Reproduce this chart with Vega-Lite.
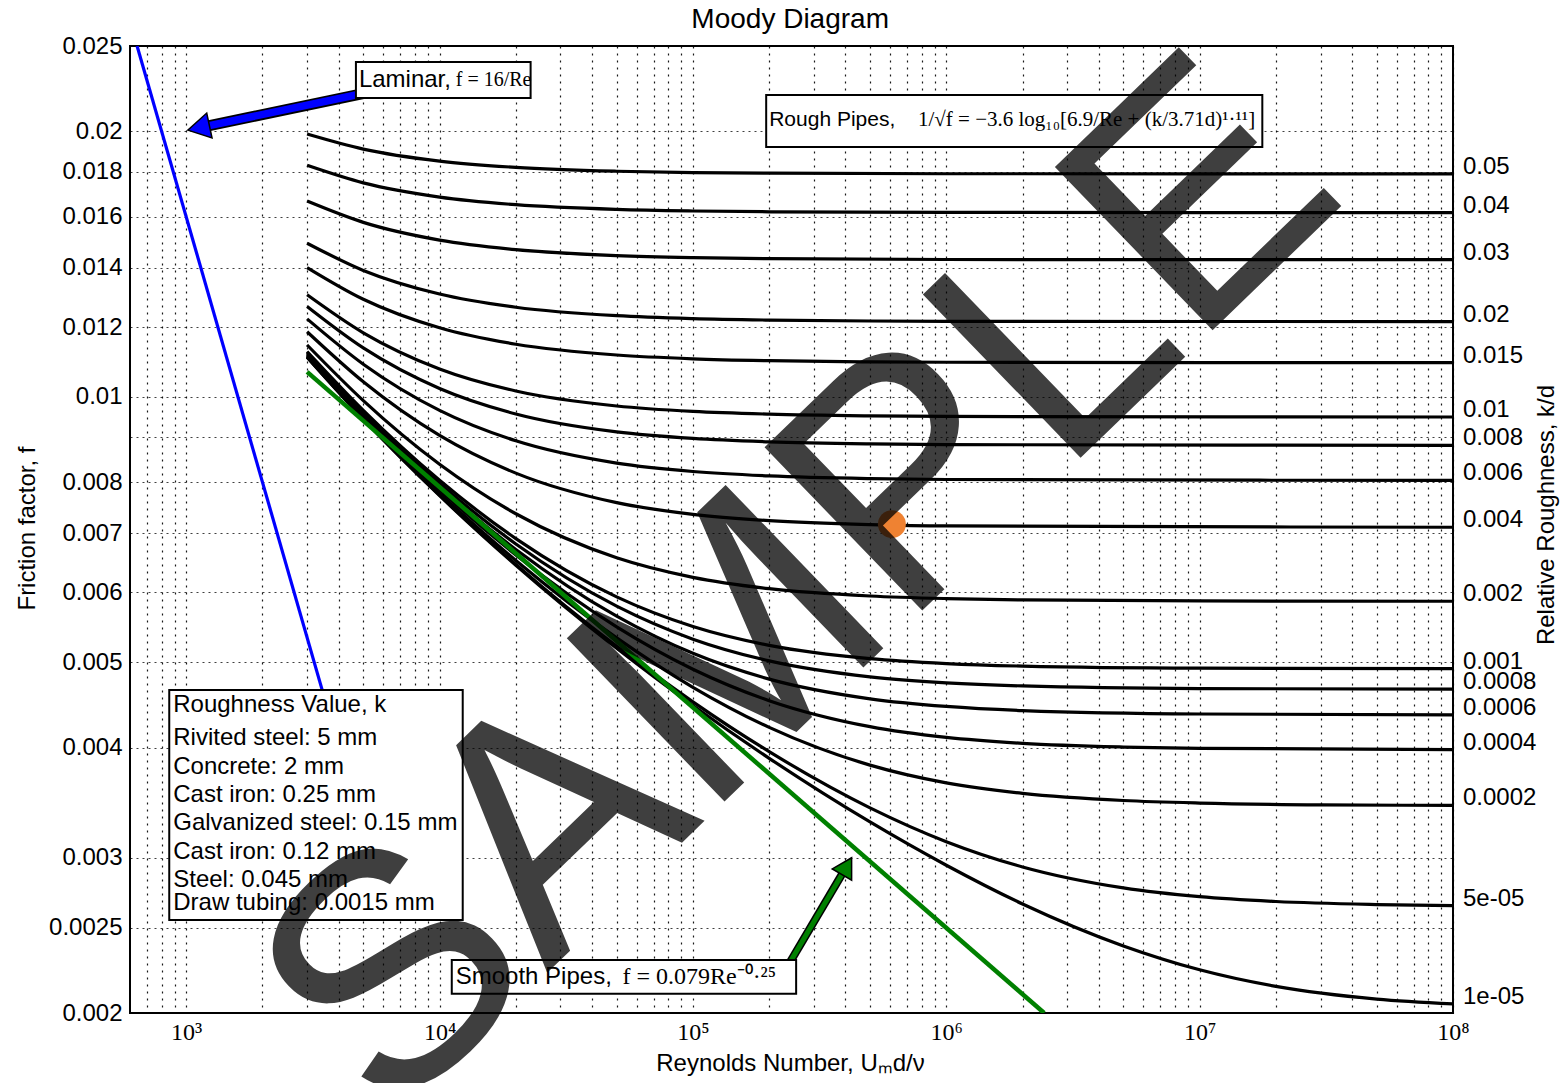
{
  "$schema": "https://vega.github.io/schema/vega-lite/v6.json",
  "width": 1323,
  "height": 967,
  "autosize": {"type": "none"},
  "padding": {"left": 130, "top": 46, "right": 112, "bottom": 70},
  "background": "white",
  "config": {
    "view": {"stroke": "black", "strokeWidth": 2},
    "axis": {"domain": false, "ticks": false, "labelColor": "black", "titleColor": "black", "gridColor": "black", "labelOverlap": false, "labelFlush": false}
  },
  "datasets": {
    "curves": [
      {"kd": "0.05", "re": 3000, "f": 0.019863}, {"kd": "0.05", "re": 5000, "f": 0.019098}, {"kd": "0.05", "re": 10000, "f": 0.018508}, {"kd": "0.05", "re": 20000, "f": 0.018207}, {"kd": "0.05", "re": 50000, "f": 0.018024}, {"kd": "0.05", "re": 100000, "f": 0.017963}, {"kd": "0.05", "re": 200000, "f": 0.017932}, {"kd": "0.05", "re": 1000000, "f": 0.017908}, {"kd": "0.05", "re": 100000000, "f": 0.017901},
      {"kd": "0.04", "re": 3000, "f": 0.018306}, {"kd": "0.04", "re": 5000, "f": 0.017485}, {"kd": "0.04", "re": 10000, "f": 0.016845}, {"kd": "0.04", "re": 20000, "f": 0.016516}, {"kd": "0.04", "re": 50000, "f": 0.016315}, {"kd": "0.04", "re": 100000, "f": 0.016248}, {"kd": "0.04", "re": 200000, "f": 0.016214}, {"kd": "0.04", "re": 1000000, "f": 0.016187}, {"kd": "0.04", "re": 100000000, "f": 0.01618},
      {"kd": "0.03", "re": 3000, "f": 0.016674}, {"kd": "0.03", "re": 5000, "f": 0.015772}, {"kd": "0.03", "re": 10000, "f": 0.015059}, {"kd": "0.03", "re": 20000, "f": 0.014688}, {"kd": "0.03", "re": 50000, "f": 0.01446}, {"kd": "0.03", "re": 100000, "f": 0.014383}, {"kd": "0.03", "re": 200000, "f": 0.014345}, {"kd": "0.03", "re": 1000000, "f": 0.014314}, {"kd": "0.03", "re": 100000000, "f": 0.014306},
      {"kd": "0.02", "re": 3000, "f": 0.014936}, {"kd": "0.02", "re": 5000, "f": 0.013912}, {"kd": "0.02", "re": 10000, "f": 0.01308}, {"kd": "0.02", "re": 20000, "f": 0.012636}, {"kd": "0.02", "re": 50000, "f": 0.01236}, {"kd": "0.02", "re": 100000, "f": 0.012266}, {"kd": "0.02", "re": 200000, "f": 0.012219}, {"kd": "0.02", "re": 500000, "f": 0.01219}, {"kd": "0.02", "re": 1000000, "f": 0.012181}, {"kd": "0.02", "re": 100000000, "f": 0.012171},
      {"kd": "0.015", "re": 3000, "f": 0.014016}, {"kd": "0.015", "re": 5000, "f": 0.012902}, {"kd": "0.015", "re": 10000, "f": 0.011976}, {"kd": "0.015", "re": 20000, "f": 0.011472}, {"kd": "0.015", "re": 50000, "f": 0.011154}, {"kd": "0.015", "re": 100000, "f": 0.011044}, {"kd": "0.015", "re": 200000, "f": 0.010989}, {"kd": "0.015", "re": 500000, "f": 0.010956}, {"kd": "0.015", "re": 1000000, "f": 0.010944}, {"kd": "0.015", "re": 100000000, "f": 0.010933},
      {"kd": "0.01", "re": 3000, "f": 0.013055}, {"kd": "0.01", "re": 5000, "f": 0.01182}, {"kd": "0.01", "re": 10000, "f": 0.010754}, {"kd": "0.01", "re": 20000, "f": 0.010153}, {"kd": "0.01", "re": 50000, "f": 0.009763}, {"kd": "0.01", "re": 100000, "f": 0.009626}, {"kd": "0.01", "re": 200000, "f": 0.009557}, {"kd": "0.01", "re": 500000, "f": 0.009515}, {"kd": "0.01", "re": 1000000, "f": 0.0095}, {"kd": "0.01", "re": 100000000, "f": 0.009486},
      {"kd": "0.008", "re": 3000, "f": 0.01266}, {"kd": "0.008", "re": 5000, "f": 0.011362}, {"kd": "0.008", "re": 10000, "f": 0.01022}, {"kd": "0.008", "re": 20000, "f": 0.009561}, {"kd": "0.008", "re": 50000, "f": 0.009124}, {"kd": "0.008", "re": 100000, "f": 0.00897}, {"kd": "0.008", "re": 200000, "f": 0.00889}, {"kd": "0.008", "re": 500000, "f": 0.008842}, {"kd": "0.008", "re": 1000000, "f": 0.008826}, {"kd": "0.008", "re": 100000000, "f": 0.00881},
      {"kd": "0.006", "re": 3000, "f": 0.012257}, {"kd": "0.006", "re": 5000, "f": 0.010889}, {"kd": "0.006", "re": 10000, "f": 0.009651}, {"kd": "0.006", "re": 20000, "f": 0.008914}, {"kd": "0.006", "re": 50000, "f": 0.00841}, {"kd": "0.006", "re": 100000, "f": 0.008228}, {"kd": "0.006", "re": 200000, "f": 0.008134}, {"kd": "0.006", "re": 500000, "f": 0.008077}, {"kd": "0.006", "re": 1000000, "f": 0.008058}, {"kd": "0.006", "re": 100000000, "f": 0.008038},
      {"kd": "0.004", "re": 3000, "f": 0.011852}, {"kd": "0.004", "re": 5000, "f": 0.0104}, {"kd": "0.004", "re": 10000, "f": 0.009041}, {"kd": "0.004", "re": 20000, "f": 0.008193}, {"kd": "0.004", "re": 50000, "f": 0.007585}, {"kd": "0.004", "re": 100000, "f": 0.007357}, {"kd": "0.004", "re": 200000, "f": 0.007237}, {"kd": "0.004", "re": 500000, "f": 0.007163}, {"kd": "0.004", "re": 1000000, "f": 0.007138}, {"kd": "0.004", "re": 100000000, "f": 0.007113},
      {"kd": "0.002", "re": 3000, "f": 0.01145}, {"kd": "0.002", "re": 5000, "f": 0.009901}, {"kd": "0.002", "re": 10000, "f": 0.008385}, {"kd": "0.002", "re": 20000, "f": 0.007368}, {"kd": "0.002", "re": 50000, "f": 0.006568}, {"kd": "0.002", "re": 100000, "f": 0.006241}, {"kd": "0.002", "re": 200000, "f": 0.006059}, {"kd": "0.002", "re": 500000, "f": 0.005944}, {"kd": "0.002", "re": 1000000, "f": 0.005904}, {"kd": "0.002", "re": 2000000, "f": 0.005883}, {"kd": "0.002", "re": 10000000, "f": 0.005867}, {"kd": "0.002", "re": 100000000, "f": 0.005863},
      {"kd": "0.001", "re": 3000, "f": 0.011257}, {"kd": "0.001", "re": 5000, "f": 0.009654}, {"kd": "0.001", "re": 10000, "f": 0.008043}, {"kd": "0.001", "re": 20000, "f": 0.006905}, {"kd": "0.001", "re": 50000, "f": 0.00593}, {"kd": "0.001", "re": 100000, "f": 0.005489}, {"kd": "0.001", "re": 200000, "f": 0.005225}, {"kd": "0.001", "re": 500000, "f": 0.005046}, {"kd": "0.001", "re": 1000000, "f": 0.004982}, {"kd": "0.001", "re": 2000000, "f": 0.004949}, {"kd": "0.001", "re": 10000000, "f": 0.004922}, {"kd": "0.001", "re": 100000000, "f": 0.004916},
      {"kd": "0.0008", "re": 3000, "f": 0.01122}, {"kd": "0.0008", "re": 5000, "f": 0.009607}, {"kd": "0.0008", "re": 10000, "f": 0.007975}, {"kd": "0.0008", "re": 20000, "f": 0.006809}, {"kd": "0.0008", "re": 50000, "f": 0.005788}, {"kd": "0.0008", "re": 100000, "f": 0.00531}, {"kd": "0.0008", "re": 200000, "f": 0.005017}, {"kd": "0.0008", "re": 500000, "f": 0.004812}, {"kd": "0.0008", "re": 1000000, "f": 0.004738}, {"kd": "0.0008", "re": 2000000, "f": 0.004699}, {"kd": "0.0008", "re": 10000000, "f": 0.004667}, {"kd": "0.0008", "re": 100000000, "f": 0.00466},
      {"kd": "0.0006", "re": 3000, "f": 0.011183}, {"kd": "0.0006", "re": 5000, "f": 0.009559}, {"kd": "0.0006", "re": 10000, "f": 0.007907}, {"kd": "0.0006", "re": 20000, "f": 0.006712}, {"kd": "0.0006", "re": 50000, "f": 0.005639}, {"kd": "0.0006", "re": 100000, "f": 0.005117}, {"kd": "0.0006", "re": 200000, "f": 0.004784}, {"kd": "0.0006", "re": 500000, "f": 0.004544}, {"kd": "0.0006", "re": 1000000, "f": 0.004454}, {"kd": "0.0006", "re": 2000000, "f": 0.004406}, {"kd": "0.0006", "re": 10000000, "f": 0.004367}, {"kd": "0.0006", "re": 100000000, "f": 0.004358},
      {"kd": "0.0004", "re": 3000, "f": 0.011148}, {"kd": "0.0004", "re": 5000, "f": 0.009514}, {"kd": "0.0004", "re": 10000, "f": 0.007841}, {"kd": "0.0004", "re": 20000, "f": 0.006616}, {"kd": "0.0004", "re": 50000, "f": 0.005484}, {"kd": "0.0004", "re": 100000, "f": 0.004909}, {"kd": "0.0004", "re": 200000, "f": 0.004522}, {"kd": "0.0004", "re": 500000, "f": 0.004225}, {"kd": "0.0004", "re": 1000000, "f": 0.004108}, {"kd": "0.0004", "re": 2000000, "f": 0.004045}, {"kd": "0.0004", "re": 5000000, "f": 0.004006}, {"kd": "0.0004", "re": 10000000, "f": 0.003992}, {"kd": "0.0004", "re": 100000000, "f": 0.00398},
      {"kd": "0.0002", "re": 3000, "f": 0.011115}, {"kd": "0.0002", "re": 5000, "f": 0.00947}, {"kd": "0.0002", "re": 10000, "f": 0.007777}, {"kd": "0.0002", "re": 20000, "f": 0.006521}, {"kd": "0.0002", "re": 50000, "f": 0.005327}, {"kd": "0.0002", "re": 100000, "f": 0.004683}, {"kd": "0.0002", "re": 200000, "f": 0.004217}, {"kd": "0.0002", "re": 500000, "f": 0.003821}, {"kd": "0.0002", "re": 1000000, "f": 0.003648}, {"kd": "0.0002", "re": 2000000, "f": 0.003549}, {"kd": "0.0002", "re": 5000000, "f": 0.003484}, {"kd": "0.0002", "re": 10000000, "f": 0.003461}, {"kd": "0.0002", "re": 30000000, "f": 0.003445}, {"kd": "0.0002", "re": 100000000, "f": 0.00344},
      {"kd": "5e-05", "re": 3000, "f": 0.011092}, {"kd": "5e-05", "re": 5000, "f": 0.009441}, {"kd": "5e-05", "re": 10000, "f": 0.007734}, {"kd": "5e-05", "re": 20000, "f": 0.006455}, {"kd": "5e-05", "re": 50000, "f": 0.005211}, {"kd": "5e-05", "re": 100000, "f": 0.004508}, {"kd": "5e-05", "re": 200000, "f": 0.003958}, {"kd": "5e-05", "re": 500000, "f": 0.003418}, {"kd": "5e-05", "re": 1000000, "f": 0.003129}, {"kd": "5e-05", "re": 2000000, "f": 0.002929}, {"kd": "5e-05", "re": 5000000, "f": 0.002773}, {"kd": "5e-05", "re": 10000000, "f": 0.00271}, {"kd": "5e-05", "re": 20000000, "f": 0.002676}, {"kd": "5e-05", "re": 50000000, "f": 0.002655}, {"kd": "5e-05", "re": 100000000, "f": 0.002647},
      {"kd": "1e-05", "re": 3000, "f": 0.011087}, {"kd": "1e-05", "re": 5000, "f": 0.009434}, {"kd": "1e-05", "re": 10000, "f": 0.007724}, {"kd": "1e-05", "re": 20000, "f": 0.00644}, {"kd": "1e-05", "re": 50000, "f": 0.005184}, {"kd": "1e-05", "re": 100000, "f": 0.004465}, {"kd": "1e-05", "re": 200000, "f": 0.00389}, {"kd": "1e-05", "re": 500000, "f": 0.003294}, {"kd": "1e-05", "re": 1000000, "f": 0.002942}, {"kd": "1e-05", "re": 2000000, "f": 0.002659}, {"kd": "1e-05", "re": 5000000, "f": 0.002383}, {"kd": "1e-05", "re": 10000000, "f": 0.002239}, {"kd": "1e-05", "re": 20000000, "f": 0.002144}, {"kd": "1e-05", "re": 50000000, "f": 0.002074}, {"kd": "1e-05", "re": 100000000, "f": 0.002048}
    ]
  },
  "encoding": {
    "x": {
      "field": "re", "type": "quantitative",
      "scale": {"type": "log", "domain": [600, 100000000], "nice": false},
      "axis": {
        "title": "Reynolds Number, Uₘd/ν",
        "titleFont": "Liberation Sans", "titleFontSize": 24, "titleFontWeight": "normal",
        "titleX": 660, "titleY": 50, "titleBaseline": "middle", "titleAlign": "center",
        "values": [700, 800, 900, 1000, 2000, 3000, 4000, 5000, 6000, 7000, 8000, 9000, 10000, 20000, 30000, 40000, 50000, 60000, 70000, 80000, 90000, 100000, 200000, 300000, 400000, 500000, 600000, 700000, 800000, 900000, 1000000, 2000000, 3000000, 4000000, 5000000, 6000000, 7000000, 8000000, 9000000, 10000000, 20000000, 30000000, 40000000, 50000000, 60000000, 70000000, 80000000, 90000000, 100000000],
        "labelExpr": "abs(log(datum.value)/LN10 - round(log(datum.value)/LN10)) < 0.001 ? '10' + substring('⁰¹²³⁴⁵⁶⁷⁸⁹', round(log(datum.value)/LN10), round(log(datum.value)/LN10) + 1) : ''",
        "labelFont": "Liberation Serif", "labelFontSize": 24, "labelPadding": 7,
        "grid": true, "gridDash": [2, 5], "gridWidth": 1.2, "gridOpacity": 0.9
      }
    },
    "y": {
      "field": "f", "type": "quantitative",
      "scale": {"type": "log", "domain": [0.002, 0.025], "nice": false},
      "axis": {
        "title": "Friction factor, f",
        "titleFont": "Liberation Sans", "titleFontSize": 24, "titleFontWeight": "normal",
        "titleX": -103, "titleY": 482, "titleBaseline": "middle", "titleAlign": "center", "titleAngle": -90,
        "values": [0.002, 0.0025, 0.003, 0.004, 0.005, 0.006, 0.007, 0.008, 0.009, 0.01, 0.012, 0.014, 0.016, 0.018, 0.02, 0.025],
        "labelExpr": "datum.value == 0.009 ? '' : format(datum.value, '~g')",
        "labelFont": "Liberation Sans", "labelFontSize": 24, "labelPadding": 8,
        "grid": true, "gridDash": [2, 4], "gridWidth": 1, "gridOpacity": 0.75
      }
    }
  },
  "layer": [
    {"data": {"name": "curves"}, "mark": {"type": "line", "color": "black", "strokeWidth": 3.2, "interpolate": "monotone", "clip": true}, "encoding": {"detail": {"field": "kd"}}},
    {"data": {"values": [{"re": 3000, "f": 0.010674}, {"re": 2434000, "f": 0.002}]}, "mark": {"type": "line", "color": "#008000", "strokeWidth": 4.5, "clip": true}, "encoding": {}},
    {"data": {"values": [{"re": 640, "f": 0.025}, {"re": 4000, "f": 0.004}]}, "mark": {"type": "line", "color": "#0000ff", "strokeWidth": 3.2, "clip": true}, "encoding": {}},
    {"data": {"name": "curves"}, "transform": [{"filter": "datum.re == 100000000"}], "mark": {"type": "text", "align": "left", "baseline": "alphabetic", "dx": 10, "font": "Liberation Sans", "fontSize": 24, "color": "black"}, "encoding": {"text": {"field": "kd"}}},
    {"data": {"values": [{"re": 5866, "f": 0.022298, "re2": 1119, "f2": 0.020189}]}, "mark": {"type": "rule", "color": "black", "strokeWidth": 11, "strokeCap": "butt"}, "encoding": {"x2": {"field": "re2"}, "y2": {"field": "f2"}}},
    {"data": {"values": [{"re": 5866, "f": 0.022298, "re2": 1119, "f2": 0.020189}]}, "mark": {"type": "rule", "color": "#0000ff", "strokeWidth": 7.5, "strokeCap": "butt"}, "encoding": {"x2": {"field": "re2"}, "y2": {"field": "f2"}}},
    {"data": {"values": [{"re": 1119, "f": 0.020189}]}, "mark": {"type": "point", "shape": "triangle-up", "filled": true, "fill": "#0000ff", "stroke": "black", "strokeWidth": 1.5, "size": 650, "angle": 258, "opacity": 1}, "encoding": {}},
    {"data": {"values": [{"re": 225700, "f": 0.0022095, "re2": 404800, "f2": 0.002935}]}, "mark": {"type": "rule", "color": "black", "strokeWidth": 8, "strokeCap": "butt"}, "encoding": {"x2": {"field": "re2"}, "y2": {"field": "f2"}}},
    {"data": {"values": [{"re": 225700, "f": 0.0022095, "re2": 404800, "f2": 0.002935}]}, "mark": {"type": "rule", "color": "#008000", "strokeWidth": 5, "strokeCap": "butt"}, "encoding": {"x2": {"field": "re2"}, "y2": {"field": "f2"}}},
    {"data": {"values": [{"re": 404800, "f": 0.002935}]}, "mark": {"type": "point", "shape": "triangle-up", "filled": true, "fill": "#008000", "stroke": "black", "strokeWidth": 1.5, "size": 500, "angle": 30, "opacity": 1}, "encoding": {}},
    {"data": {"values": [
      {"box": "laminar", "re": 4676, "re2": 22874, "f": 0.023976, "f2": 0.021825},
      {"box": "rough", "re": 194600, "re2": 17676000, "f": 0.021996, "f2": 0.019201},
      {"box": "smooth", "re": 11173, "re2": 255500, "f": 0.0022974, "f2": 0.0021026},
      {"box": "roughness", "re": 857.2, "re2": 12342, "f": 0.0046497, "f2": 0.00255}
    ]}, "mark": {"type": "rect", "fill": "white", "stroke": "black", "strokeWidth": 2}, "encoding": {"x2": {"field": "re2"}, "y2": {"field": "f2"}}},
    {"data": {"values": [
      {"re": 4804, "f": 0.022877, "text": "Laminar,"},
      {"re": 11582, "f": 0.002198, "text": "Smooth Pipes,"},
      {"re": 888.8, "f": 0.0044713, "text": "Roughness Value, k"},
      {"re": 888.8, "f": 0.0041014, "text": "Rivited steel: 5 mm"},
      {"re": 888.8, "f": 0.0038031, "text": "Concrete: 2 mm"},
      {"re": 888.8, "f": 0.0035349, "text": "Cast iron: 0.25 mm"},
      {"re": 888.8, "f": 0.0032859, "text": "Galvanized steel: 0.15 mm"},
      {"re": 888.8, "f": 0.0030459, "text": "Cast iron: 0.12 mm"},
      {"re": 888.8, "f": 0.0028311, "text": "Steel: 0.045 mm"},
      {"re": 888.8, "f": 0.0026661, "text": "Draw tubing: 0.0015 mm"}
    ]}, "mark": {"type": "text", "align": "left", "baseline": "middle", "font": "Liberation Sans", "fontSize": 24, "color": "black"}, "encoding": {"text": {"field": "text"}}},
    {"data": {"values": [{"re": 200000, "f": 0.020608, "text": "Rough Pipes,"}]}, "mark": {"type": "text", "align": "left", "baseline": "middle", "font": "Liberation Sans", "fontSize": 21, "color": "black"}, "encoding": {"text": {"field": "text"}}},
    {"data": {"values": [{"re": 11582, "f": 0.022877, "text": "f = 16/Re"}]}, "mark": {"type": "text", "align": "left", "baseline": "middle", "font": "Liberation Serif", "fontSize": 20, "color": "black"}, "encoding": {"text": {"field": "text"}}},
    {"data": {"values": [{"re": 773000, "f": 0.020608, "text": "1/√f = −3.6 log₁₀[6.9/Re + (k/3.71d)¹·¹¹]"}]}, "mark": {"type": "text", "align": "left", "baseline": "middle", "font": "Liberation Serif", "fontSize": 21, "color": "black"}, "encoding": {"text": {"field": "text"}}},
    {"data": {"values": [{"re": 52700, "f": 0.002198, "text": "f = 0.079Re⁻⁰·²⁵"}]}, "mark": {"type": "text", "align": "left", "baseline": "middle", "font": "Liberation Serif", "fontSize": 24, "color": "black"}, "encoding": {"text": {"field": "text"}}},
    {"data": {"values": [{"re": 234600000, "f": 0.0073441, "text": "Relative Roughness, k/d"}]}, "mark": {"type": "text", "align": "center", "baseline": "middle", "angle": -90, "font": "Liberation Sans", "fontSize": 24, "color": "black"}, "encoding": {"text": {"field": "text"}}},
    {"data": {"values": [{"re": 242000, "f": 0.026757, "text": "Moody Diagram"}]}, "mark": {"type": "text", "align": "center", "baseline": "middle", "font": "Liberation Sans", "fontSize": 28, "color": "black"}, "encoding": {"text": {"field": "text"}}},
    {"data": {"values": [{"re": 610000, "f": 0.00717}]}, "mark": {"type": "point", "shape": "circle", "filled": true, "color": "#ef8232", "size": 780, "opacity": 1}, "encoding": {}},
    {"data": {"values": [{"re": 267400, "f": 0.0060384, "text": "SAMPLE"}]}, "mark": {"type": "text", "align": "center", "baseline": "middle", "angle": -44, "font": "Liberation Sans", "fontSize": 330, "color": "black", "opacity": 0.75}, "encoding": {"text": {"field": "text"}}}
  ]
}
